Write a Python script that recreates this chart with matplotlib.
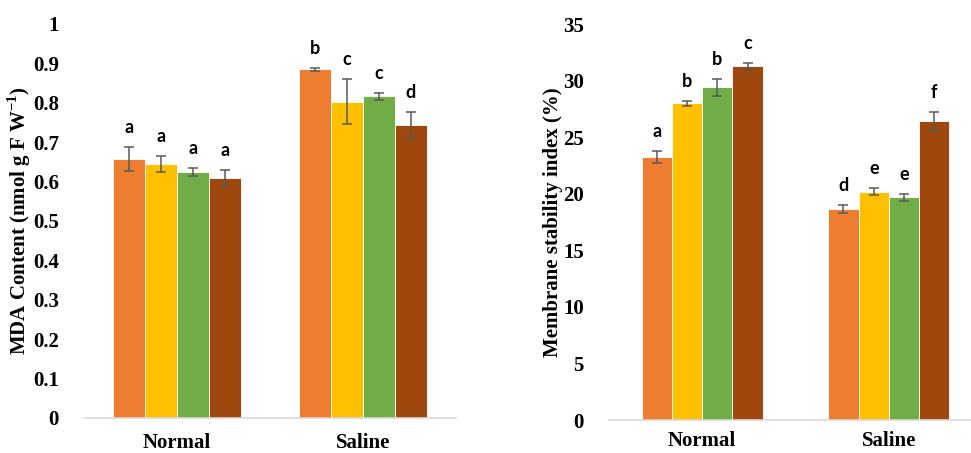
import matplotlib.pyplot as plt
import numpy as np

plt.rcParams['mathtext.fontset'] = 'custom'
plt.rcParams['mathtext.bf'] = 'Liberation Serif:bold'
plt.rcParams['mathtext.rm'] = 'Liberation Serif:bold'

groups = ['Normal', 'Saline']
colors = ['#ED7D31', '#FFC000', '#70AD47', '#9E480E']

# MDA content, 4 treatments x 2 conditions
mda = [[0.657, 0.885], [0.644, 0.803], [0.624, 0.816], [0.609, 0.744]]
mda_err = [[0.030, 0.004], [0.020, 0.058], [0.010, 0.008], [0.021, 0.033]]
mda_letters = [['a', 'b'], ['a', 'c'], ['a', 'c'], ['a', 'd']]

# membrane stability index
msi = [[23.25, 18.65], [28.0, 20.2], [29.4, 19.7], [31.27, 26.4]]
msi_err = [[0.55, 0.35], [0.2, 0.35], [0.72, 0.3], [0.3, 0.84]]
msi_letters = [['a', 'd'], ['b', 'e'], ['b', 'e'], ['c', 'f']]

fig = plt.figure(figsize=(9.71, 4.53), dpi=100)
ax1 = fig.add_axes([0.0865, 0.0773, 0.383, 0.870])
ax2 = fig.add_axes([0.627, 0.0728, 0.372, 0.874])


def draw(ax, vals, errs, letters, bw, ylim, yticks, ylabel, xlim, xpad):
    x = np.arange(len(groups))
    for i in range(4):
        pos = x + (i - 1.5) * bw
        ax.bar(pos, vals[i], bw, color=colors[i], edgecolor='white', linewidth=0.6, zorder=2)
        ax.errorbar(pos, vals[i], yerr=errs[i], fmt='none', ecolor='#595959',
                    elinewidth=1.1, capsize=3.5, capthick=1.1, zorder=3)
        for j in range(len(groups)):
            ax.annotate(letters[i][j], (pos[j], vals[i][j] + errs[i][j]),
                        xytext=(0, 10), textcoords='offset points',
                        ha='center', va='baseline', fontsize=13,
                        fontweight='bold', family='Lato')
    ax.set_xlim(*xlim)
    ax.set_ylim(*ylim)
    ax.set_yticks(yticks)
    ax.set_xticks(x)
    ax.set_xticklabels(groups, fontsize=15, fontweight='bold', family='Liberation Serif')
    ax.tick_params(axis='y', length=0, pad=18)
    ax.tick_params(axis='x', length=0, pad=xpad)
    for s in ['top', 'right', 'left']:
        ax.spines[s].set_visible(False)
    ax.spines['bottom'].set_color('#D9D9D9')
    ax.spines['bottom'].set_linewidth(1.2)
    ax.set_ylabel(ylabel, fontsize=15, fontweight='bold', family='Liberation Serif',
                  labelpad=0)
    for lab in ax.get_yticklabels():
        lab.set_fontsize(15)
        lab.set_fontweight('bold')
        lab.set_family('Liberation Serif')


ax1.set_yticks(np.arange(0, 1.01, 0.1))
draw(ax1, mda, mda_err, mda_letters, 0.1716, (0, 1), np.arange(0, 1.01, 0.1),
     r'MDA Content (nmol g F W$^{\mathbf{-1}}$)', (-0.5, 1.5), 11)
ax1.set_yticklabels(['0'] + ['%.1f' % v for v in np.arange(0.1, 0.95, 0.1)] + ['1'],
                    fontsize=15, fontweight='bold', family='Liberation Serif')

draw(ax2, msi, msi_err, msi_letters, 0.162, (0, 35), np.arange(0, 36, 5),
     'Membrane stability index (%)', (-0.5, 1.435), 8)

fig.savefig('out.png', dpi=100)
